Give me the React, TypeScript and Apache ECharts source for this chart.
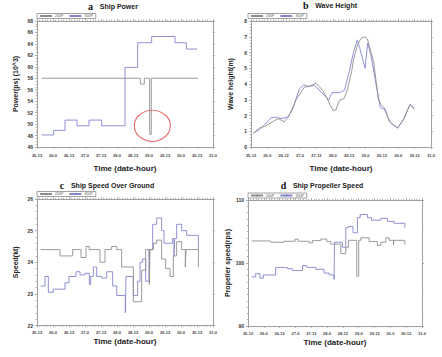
import React, { useEffect, useRef } from 'react';
import * as echarts from 'echarts';

// Time axis runs in hours after 25-12 (day-hour); one tick every 12 hours.
const xTickLabels = ['25-12', '26-0', '26-12', '27-0', '27-12', '28-0', '28-12', '29-0', '29-12', '30-0', '30-12', '31-0'];
const seriesNames = ['200P', '300P'];

// a: ship power (10^3 ps), step segments [start hour, value]
const powerP200 = [[3.5, 58], [77.5, 57], [80.5, 58], [84.5, 48.2], [85.7, 58], [120.7, 58]];
const powerP300 = [[3.5, 48.1], [12.5, 48.9], [21, 50.7], [30, 49.7], [39, 50.7], [48.5, 49.7], [66, 59.9], [75.5, 64.2], [86, 65.3], [103.5, 64.2], [112, 63.1], [120, 63.1]];
const powerOutlier = [[86.5, 49.7]];

// b: wave height (m), sampled points
const waveP200 = [[1.7, 0.85], [6.1, 1.2], [9.8, 1.3], [14.7, 1.55], [20, 1.8], [24.4, 1.6], [28.1, 2.0], [33, 3.0], [39.1, 3.8], [42.8, 3.85], [47.7, 4.05], [52.6, 3.6], [56.2, 3.0], [59.9, 2.35], [62.3, 2.35], [64.8, 2.95], [68.5, 3.1], [70.9, 3.7], [73.8, 4.8], [75.3, 5.6], [78.2, 6.5], [80.7, 6.9], [83.9, 7.0], [85.6, 6.8], [88, 6.0], [90, 5.4], [93.4, 3.0], [95.4, 2.7], [98.5, 2.4], [101.5, 1.6], [107.6, 1.2], [112, 1.8], [116.6, 2.7], [119.8, 2.4]];
const waveP300 = [[1.7, 0.9], [6.1, 1.1], [9.8, 1.4], [14.7, 1.85], [17.1, 1.9], [22, 1.8], [26.9, 1.9], [30.6, 2.4], [35.5, 3.7], [38.6, 3.95], [42, 3.85], [46.5, 3.9], [51.3, 3.5], [57, 3.0], [59.4, 3.45], [64.8, 3.45], [68.5, 3.6], [72.1, 4.8], [75.1, 6.0], [78, 6.8], [79.7, 6.3], [83.6, 5.0], [85.6, 6.6], [88, 5.8], [91.7, 4.0], [94.9, 2.5], [97.8, 2.4], [99.8, 2.0], [102.7, 1.5], [107.6, 1.2], [112, 1.75], [116.6, 2.7], [119.8, 2.45]];

// c: speed over ground (kt), step segments
const speedP200 = [[2.75, 24.4], [17.25, 24.2], [26.75, 24.4], [33, 24.15], [36.75, 24.5], [39.25, 24.4], [47.25, 24.0], [51, 24.4], [56, 24.5], [59.75, 24.4], [63.5, 23.85], [72.25, 22.75], [78.5, 23.75], [81.5, 24.4], [84.25, 23.3], [84.75, 24.4], [87.25, 24.6], [89.75, 24.7], [93.5, 24.1], [96.5, 23.8], [99.75, 23.55], [102.25, 24.2], [104.75, 24.65], [108.5, 24.4], [111.25, 23.85], [111.75, 24.4], [121, 23.85]];
const speedP300 = [[2.75, 23.25], [6, 23.55], [8.5, 23.05], [12.25, 23.15], [21, 23.35], [24, 23.55], [29.25, 23.7], [32.25, 23.6], [36, 23.65], [39.25, 23.3], [40.25, 23.55], [42.25, 23.85], [44.75, 23.55], [48.5, 23.5], [52.25, 23.7], [56.75, 23.25], [59.75, 22.95], [66.25, 22.4], [66.75, 23.55], [72.25, 22.95], [75.5, 23.4], [77.25, 24.0], [79.25, 24.1], [81.5, 23.4], [84, 24.4], [86.75, 25.2], [89.75, 25.4], [93.5, 25.0], [95.25, 24.6], [101.75, 24.75], [102.75, 24.2], [103.25, 24.75], [104.75, 25.2], [108.5, 25.0], [112.25, 24.85], [121, 24.4]];

// d: propeller speed (rps), step segments
const propP200 = [[2.8, 103.5], [17.2, 103.3], [27.3, 103.45], [35.7, 103.8], [38, 103.45], [46.3, 103.2], [48.9, 103.55], [55.2, 103.8], [59.7, 103.4], [62.8, 103.0], [70.4, 101.5], [74.2, 102.5], [76.2, 103.6], [82.5, 97.9], [84, 103.6], [85.6, 104.0], [91.9, 103.4], [98.2, 102.8], [100.8, 103.3], [104.6, 104.0], [107.1, 103.6], [110.4, 102.9], [110.6, 103.6], [119, 102.9]];
const propP300 = [[2.8, 97.8], [5.8, 98.3], [9.1, 97.6], [11.6, 98.1], [21, 99.3], [29.9, 99.1], [33.7, 98.8], [41.3, 99.6], [44.6, 99.3], [51.4, 99.0], [57.7, 98.4], [61.5, 98.1], [65.3, 97.4], [65.6, 103.3], [71.6, 102.5], [74.2, 105.6], [76.2, 105.8], [79.7, 104.8], [83, 107.2], [85.1, 107.7], [90.6, 107.2], [93.7, 106.8], [100.8, 107.1], [105.8, 106.6], [110.9, 106.3], [119, 105.6]];

const GRAY = '#8e8e8e';
const BLUE = '#8585cf';
const AXIS = '#a0a0a0';
const SANS = '"Liberation Sans", Arial, sans-serif';
const SERIF = '"Liberation Serif", "Times New Roman", serif';

type Panel = {
  grid: { left: number; top: number; width: number; height: number };
  yMin: number; yMax: number; yStep: number; yMinor: number;
  yName: string; yGap: number; xGap: number; xLabelMargin: number;
  legendPos: { left: number; top: number };
  title: { x: number; y: number; letter: string; text: string };
  s200: number[][]; s300: number[][]; step: boolean;
};

const panels: Panel[] = [
  {
    grid: { left: 37, top: 21, width: 176, height: 126 },
    yMin: 46, yMax: 68, yStep: 2, yMinor: 4,
    yName: 'Power(ps) (10^3)', yGap: 18.5, xGap: 17, xLabelMargin: 6,
    legendPos: { left: 37, top: 13.5 },
    title: { x: 113, y: 6, letter: 'a', text: 'Ship Power' },
    s200: powerP200, s300: powerP300, step: true,
  },
  {
    grid: { left: 251, top: 21, width: 180, height: 126 },
    yMin: 0, yMax: 8, yStep: 1, yMinor: 5,
    yName: 'Wave height(m)', yGap: 17.5, xGap: 17, xLabelMargin: 6,
    legendPos: { left: 248, top: 13.5 },
    title: { x: 330, y: 5.5, letter: 'b', text: 'Wave Height' },
    s200: waveP200, s300: waveP300, step: false,
  },
  {
    grid: { left: 37, top: 199, width: 176, height: 126.5 },
    yMin: 22, yMax: 26, yStep: 1, yMinor: 5,
    yName: 'Speed(kt)', yGap: 18.5, xGap: 12, xLabelMargin: 5,
    legendPos: { left: 37, top: 191.5 },
    title: { x: 107, y: 185, letter: 'c', text: 'Ship Speed Over Ground' },
    s200: speedP200, s300: speedP300, step: true,
  },
  {
    grid: { left: 248, top: 200, width: 174, height: 126 },
    yMin: 90, yMax: 110, yStep: 10, yMinor: 10,
    yName: 'Propeller speed(rps)', yGap: 17.5, xGap: 12, xLabelMargin: 5,
    legendPos: { left: 248, top: 193 },
    title: { x: 322, y: 185.5, letter: 'd', text: 'Ship Propeller Speed' },
    s200: propP200, s300: propP300, step: true,
  },
];

function buildOption() {
  const grid: any[] = [];
  const xAxis: any[] = [];
  const yAxis: any[] = [];
  const series: any[] = [];
  const legend: any[] = [];
  const graphic: any[] = [];

  const tickCommon = {
    axisLine: { show: true, onZero: false, lineStyle: { color: AXIS, width: 1 } },
    axisTick: { show: true, length: 2, lineStyle: { color: AXIS, width: 0.8 } },
    splitLine: { show: false },
  };

  panels.forEach((p, i) => {
    grid.push({ ...p.grid, containLabel: false });

    const xCommon = {
      type: 'value', gridIndex: i, min: 0, max: 132, interval: 12,
      ...tickCommon,
      minorTick: { show: true, splitNumber: 6, length: 1.2, lineStyle: { color: AXIS, width: 0.8 } },
    };
    xAxis.push({
      ...xCommon, position: 'bottom',
      name: 'Time (date-hour)', nameLocation: 'middle', nameGap: p.xGap,
      nameTextStyle: { fontFamily: SANS, fontWeight: 'bold', fontSize: 8, color: '#222' },
      axisLabel: {
        show: true, margin: p.xLabelMargin, fontSize: 4, fontWeight: 'bold', fontFamily: SANS, color: '#444',
        formatter: (v: number) => xTickLabels[Math.round(v / 12)] ?? '',
      },
    });
    xAxis.push({ ...xCommon, position: 'top', axisLabel: { show: false } });

    const yCommon = {
      type: 'value', gridIndex: i, min: p.yMin, max: p.yMax, interval: p.yStep,
      ...tickCommon,
      minorTick: { show: true, splitNumber: p.yMinor, length: 1.2, lineStyle: { color: AXIS, width: 0.8 } },
    };
    yAxis.push({
      ...yCommon, position: 'left',
      name: p.yName, nameLocation: 'middle', nameGap: p.yGap, nameRotate: 90,
      nameTextStyle: { fontFamily: SANS, fontWeight: 'bold', fontSize: 7, color: '#222' },
      axisLabel: { show: true, margin: 4, fontSize: 5, fontWeight: 'bold', fontFamily: SANS, color: '#333' },
    });
    yAxis.push({ ...yCommon, position: 'right', axisLabel: { show: false } });

    const lineBase = {
      type: 'line', xAxisIndex: 2 * i, yAxisIndex: 2 * i,
      symbol: 'none', step: p.step ? 'end' : false, smooth: false,
    };
    series.push({ ...lineBase, name: seriesNames[1], data: p.s300, lineStyle: { color: BLUE, width: 0.9 }, itemStyle: { color: BLUE } });
    series.push({ ...lineBase, name: seriesNames[0], data: p.s200, lineStyle: { color: GRAY, width: 0.9 }, itemStyle: { color: GRAY } });

    legend.push({
      data: seriesNames, left: p.legendPos.left, top: p.legendPos.top,
      orient: 'horizontal', itemWidth: 12, itemHeight: 3, itemGap: 5,
      padding: [0.5, 3, 0.5, 2], borderColor: '#8a8a8a', borderWidth: 0.8, backgroundColor: '#fff',
      selectedMode: false,
      textStyle: { fontSize: 3.6, fontFamily: SANS, color: '#555', lineHeight: 4, padding: [0, 0, 0, -2] },
    });

    graphic.push({
      type: 'text', x: p.title.x, y: p.title.y,
      style: {
        text: `{l|${p.title.letter}}  {t|${p.title.text}}`,
        textAlign: 'center', textVerticalAlign: 'middle',
        rich: {
          l: { fontFamily: SERIF, fontWeight: 'bold', fontSize: 10, fill: '#111' },
          t: { fontFamily: SANS, fontWeight: 'bold', fontSize: 7, fill: '#222' },
        },
      },
    });
  });

  // outlier marker drawn around the power drop
  series.push({
    type: 'scatter', name: 'outlier', xAxisIndex: 0, yAxisIndex: 0,
    data: powerOutlier, symbol: 'circle', symbolSize: [36, 31],
    itemStyle: { color: 'rgba(0,0,0,0)', borderColor: '#e0393c', borderWidth: 1 },
    z: 5,
  });

  return { animation: false, backgroundColor: '#fff', grid, xAxis, yAxis, series, legend, graphic };
}

export default function App() {
  const ref = useRef<HTMLDivElement>(null);
  useEffect(() => {
    if (!ref.current) return;
    const chart = echarts.init(ref.current, undefined, { renderer: 'svg' });
    chart.setOption(buildOption() as any);
    return () => chart.dispose();
  }, []);
  return <div ref={ref} style={{ position: 'fixed', left: 0, top: 0, width: 442, height: 357 }} />;
}
